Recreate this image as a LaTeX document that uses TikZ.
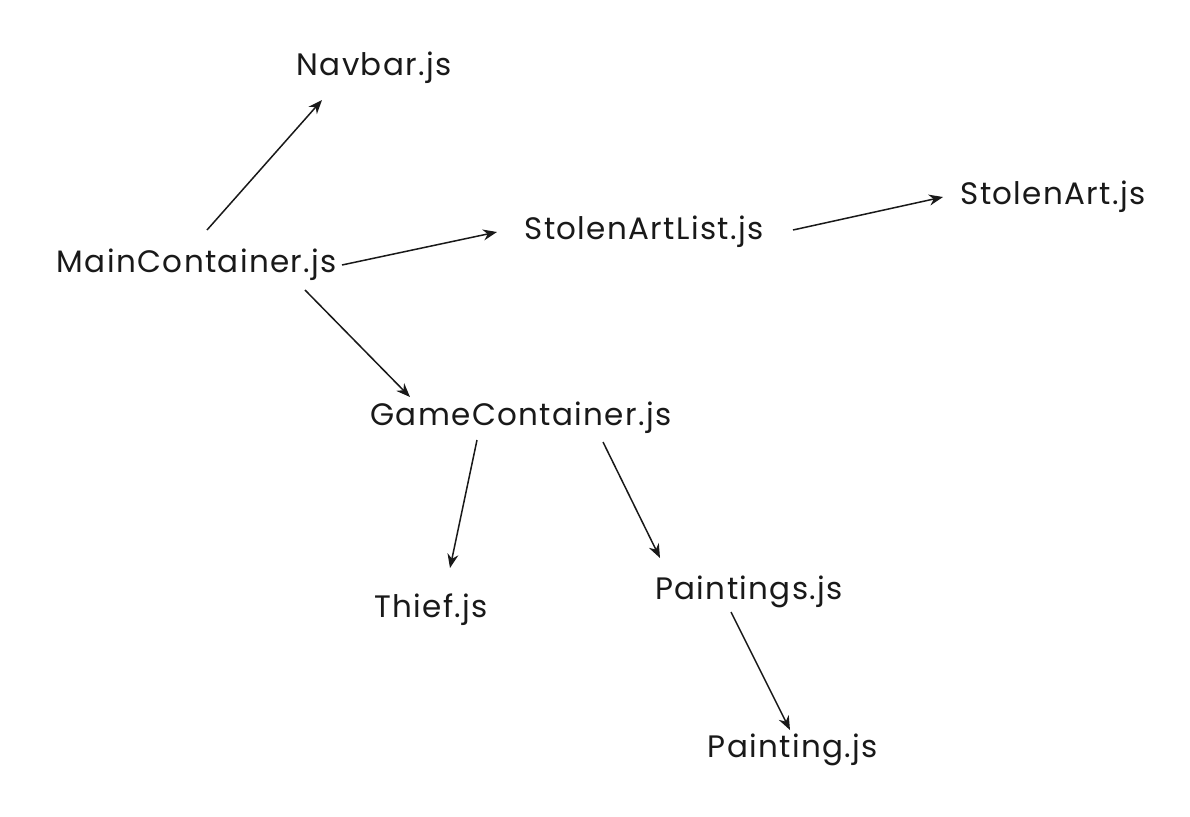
\documentclass[tikz,border=0pt]{standalone}
\usepackage{fontspec}
\setmainfont[LetterSpace=4.4]{Poppins}
\usetikzlibrary{arrows.meta}
\tikzset{
  lbl/.style={font=\fontsize{31}{36}\selectfont, inner sep=0pt, text=black!90},
  arr/.style={draw=black!90, line width=1.5pt, -{Stealth[length=14pt,width=11pt]}}
}
\begin{document}
\begin{tikzpicture}[x=1pt,y=-1pt]
\useasboundingbox[fill=white] (0,0) rectangle (1190,816);
\node[lbl] (nav) at (374,68) {Navbar.js};
\node[lbl] (main) at (197,265) {MainContainer.js};
\node[lbl] (sal) at (644,232) {StolenArtList.js};
\node[lbl] (sa) at (1053,197) {StolenArt.js};
\node[lbl] (gc) at (521,418) {GameContainer.js};
\node[lbl] (thief) at (431,610) {Thief.js};
\node[lbl] (pts) at (749,592) {Paintings.js};
\node[lbl] (pt) at (793,750) {Painting.js};
\draw[arr] ([shift={(10,-35)}]main.center) -- ([shift={(-52,32)}]nav.center);
\draw[arr] ([shift={(145,0)}]main.center) -- ([shift={(-147,0)}]sal.center);
\draw[arr] ([shift={(149,-2)}]sal.center) -- ([shift={(-110,0)}]sa.center);
\draw[arr] ([shift={(108,25)}]main.center) -- ([shift={(-111,-21)}]gc.center);
\draw[arr] ([shift={(-44,22)}]gc.center) -- ([shift={(19,-42)}]thief.center);
\draw[arr] ([shift={(82,24)}]gc.center) -- ([shift={(-89,-34)}]pts.center);
\draw[arr] ([shift={(-18,20)}]pts.center) -- ([shift={(-3,-20)}]pt.center);
\end{tikzpicture}
\end{document}
